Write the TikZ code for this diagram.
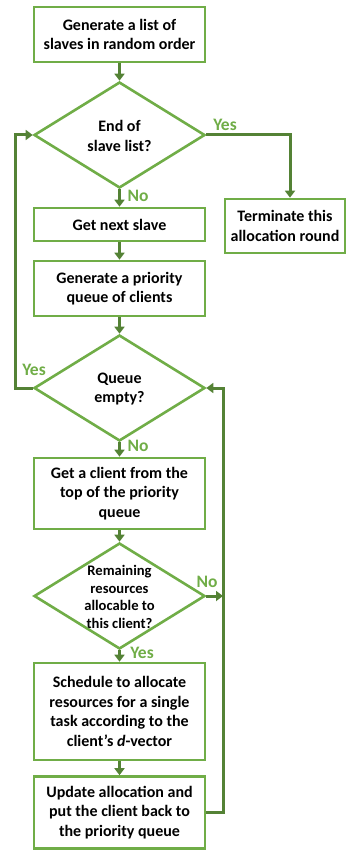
\documentclass[tikz,border=0pt]{standalone}
\usepackage{fontspec}
\setmainfont{Carlito}
\usetikzlibrary{shapes.geometric,arrows.meta,calc}
\definecolor{boxgreen}{HTML}{70AD47}
\definecolor{arrgreen}{HTML}{548235}
\tikzset{
  box/.style={draw=boxgreen, line width=2.6pt, fill=white, minimum width=171pt, inner sep=2pt, align=center, font=\fontsize{16}{19.5}\selectfont\bfseries},
  dia/.style={draw=boxgreen, line width=2.6pt, diamond, minimum width=171pt, minimum height=106pt, inner sep=0pt},
  txt/.style={align=center, font=\fontsize{16}{19.5}\selectfont\bfseries},
  dtxt/.style={align=center, font=\fontsize{14.6}{17.5}\selectfont\bfseries},
  lab/.style={text=boxgreen, font=\fontsize{17.5}{19}\selectfont\bfseries, inner sep=0pt},
  arr/.style={draw=arrgreen, line width=3pt, -{Triangle[width=10pt,length=7pt]}}
}
\begin{document}
\begin{tikzpicture}[x=1pt,y=-1pt]
\useasboundingbox (0,0) rectangle (349,850);
\node[box, minimum height=55pt] (b1) at (119.5,34.5) {Generate a list of\\slaves in random order};
\node[dia] (d1) at (119.5,135) {};
\node[txt] (t1) at (119.5,136) {End of\\slave list?};
\node[box, minimum width=120pt, minimum height=54pt] (term) at (285,226) {Terminate this\\allocation round};
\node[box, minimum height=33pt] (b2) at (119.5,224.5) {Get next slave};
\node[box, minimum height=55pt] (b3) at (119.5,288.5) {Generate a priority\\queue of clients};
\node[dia] (d2) at (119.5,388) {};
\node[txt] (t2) at (119.5,389) {Queue\\empty?};
\node[box, minimum height=71pt] (b4) at (119.5,493.5) {Get a client from the\\top of the priority\\queue};
\node[dia] (d3) at (119.5,596) {};
\node[dtxt] (t3) at (119.5,597) {Remaining\\resources\\allocable to\\this client?};
\node[box, minimum height=97pt] (b5) at (119.5,711.5) {Schedule to allocate\\resources for a single\\task according to the\\client’s \textit{d}-vector};
\node[box, minimum height=72pt] (b6) at (119.5,812.5) {Update allocation and\\put the client back to\\the priority queue};
\coordinate (lx) at (15,0);
\coordinate (rx) at (223,0);
\draw[arr] (b1.south) -- (d1.north);
\draw[arr] (d1.east) -| ($(term.north)+(5,0)$);
\draw[arr] (d1.south) -- (b2.north);
\draw[arr] (b2.south) -- (b3.north);
\draw[arr] (b3.south) -- (d2.north);
\draw[arr] (d2.west) -| (lx |- d1.west) -- (d1.west);
\draw[arr] (d2.south) -- (b4.north);
\draw[arr] (b4.south) -- (d3.north);
\coordinate (nx) at (rx |- d3.east);
\draw[arr] (d3.east) -- (nx);
\draw[arr] (d3.south) -- (b5.north);
\draw[arr] (b5.south) -- (b6.north);
\draw[arr] (b6.east) -| (rx |- d2.east) -- (d2.east);
\node[lab] (y1) at (225,125) {Yes};
\node[lab] (n1) at (138,196) {No};
\node[lab] (y2) at (34,370) {Yes};
\node[lab] (n2) at (138,446) {No};
\node[lab] (n3) at (207,582) {No};
\node[lab] (y3) at (142,653) {Yes};
\end{tikzpicture}
\end{document}
